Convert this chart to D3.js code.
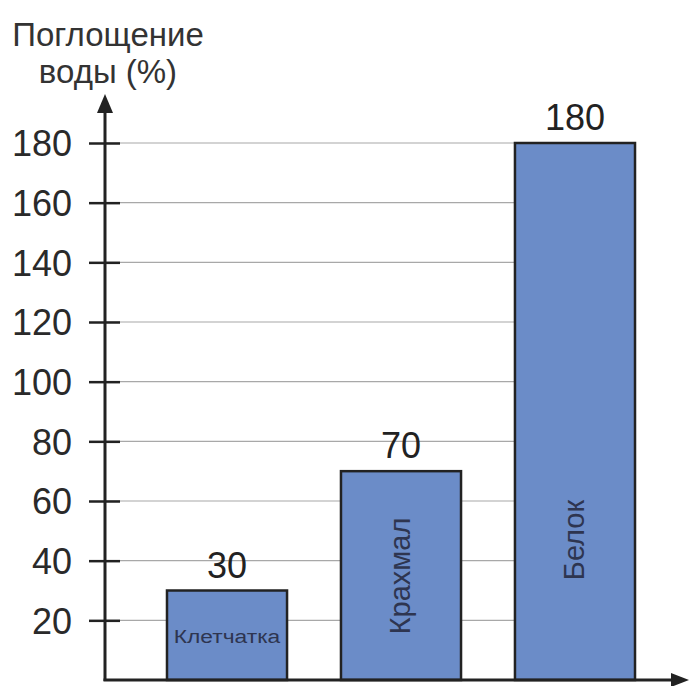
<!DOCTYPE html>
<html><head><meta charset="utf-8">
<script src="https://cdn.jsdelivr.net/npm/d3@7/dist/d3.min.js"></script>
<style>body{margin:0;background:#fff}svg{display:block}text{font-family:"Liberation Sans",Arial,sans-serif}</style>
</head><body><svg id="c" width="689" height="686"></svg>
<script>
const categories = ["Клетчатка", "Крахмал", "Белок"];
const values = [30, 70, 180];
const tickValues = [20, 40, 60, 80, 100, 120, 140, 160, 180];
const titleLines = ["Поглощение", "воды (%)"];

const svg = d3.select("#c");
const x0 = 105, y0 = 680;
const y = d3.scaleLinear().domain([0, 180]).range([y0, 143]);
const x = d3.scaleBand().domain(categories).range([80, 722]).paddingInner(0.31).paddingOuter(0.5);

// gridlines
svg.append("g").selectAll("line").data(tickValues).join("line")
  .attr("x1", x0).attr("x2", x(categories[2]))
  .attr("y1", d => y(d)).attr("y2", d => y(d))
  .attr("stroke", "#a8a8a8").attr("stroke-width", 1.2);

// bars
svg.append("g").selectAll("rect").data(values).join("rect")
  .attr("x", (d, i) => x(categories[i]))
  .attr("y", d => y(d))
  .attr("width", x.bandwidth())
  .attr("height", d => y0 - y(d))
  .attr("fill", "#6b8cc8").attr("stroke", "#222").attr("stroke-width", 2.5);

// value labels
svg.append("g").selectAll("text").data(values).join("text")
  .attr("x", (d, i) => x(categories[i]) + x.bandwidth() / 2)
  .attr("y", d => y(d) - 13)
  .attr("text-anchor", "middle").attr("font-size", 36).attr("fill", "#222")
  .text(d => d);

// category labels
categories.forEach((c, i) => {
  const cx = x(c) + x.bandwidth() / 2;
  if (i === 0) {
    svg.append("text").attr("transform", `translate(${cx},643) scale(1.2,1)`).attr("text-anchor", "middle")
      .attr("font-size", 19).attr("fill", "#2e3550").text(c);
  } else {
    const cy = i === 1 ? 576 : 540;
    svg.append("text").attr("transform", `translate(${cx + 9},${cy}) rotate(-90)`)
      .attr("text-anchor", "middle").attr("font-size", 29).attr("fill", "#2e3550").text(c);
  }
});

// y axis with d3 axis
const yAxis = d3.axisLeft(y).tickValues(tickValues).tickSize(16).tickPadding(18);
const ga = svg.append("g").attr("transform", `translate(${x0},0)`).call(yAxis);
ga.select(".domain").remove();
ga.selectAll(".tick line").attr("x2", 15).attr("x1", -16).attr("stroke", "#222").attr("stroke-width", 2.5);
ga.selectAll(".tick text").attr("font-size", 36).attr("fill", "#2a2a2a").attr("x", -33).attr("dy", "0.36em")
  .style("font-family", '"Liberation Sans",Arial,sans-serif');

// axis lines
svg.append("line").attr("x1", x0).attr("x2", x0).attr("y1", y0 + 1).attr("y2", 110)
  .attr("stroke", "#222").attr("stroke-width", 3);
svg.append("line").attr("x1", x0 - 1.5).attr("x2", 674).attr("y1", y0).attr("y2", y0)
  .attr("stroke", "#222").attr("stroke-width", 3);
// arrows
svg.append("path").attr("d", `M${x0},94 L${x0 - 8},113 L${x0 + 8},113 Z`).attr("fill", "#222");
svg.append("path").attr("d", `M689,${y0} L671,${y0 - 7} L671,${y0 + 7} Z`).attr("fill", "#222");

// title
svg.append("g").selectAll("text").data(titleLines).join("text")
  .attr("x", 108).attr("y", (d, i) => 46 + i * 37)
  .attr("text-anchor", "middle").attr("font-size", 33).attr("fill", "#333")
  .text(d => d);
</script></body></html>
